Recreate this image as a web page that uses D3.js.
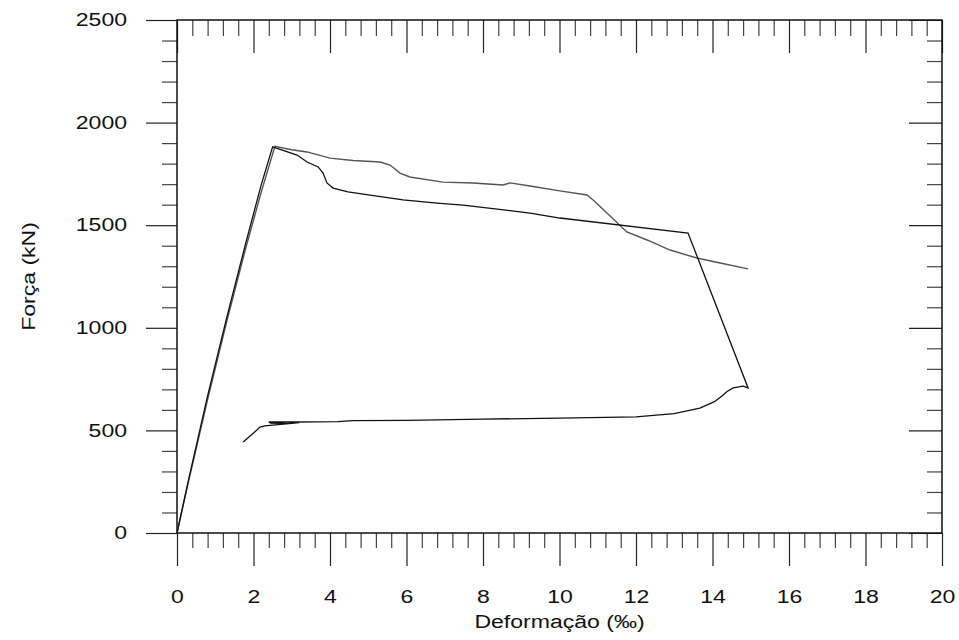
<!DOCTYPE html>
<html>
<head>
<meta charset="utf-8">
<script src="https://cdnjs.cloudflare.com/ajax/libs/d3/7.8.5/d3.min.js"></script>
<style>
  body { margin: 0; background: #fff; }
  svg { display: block; font-family: Arial, "Liberation Sans", sans-serif; }
</style>
</head>
<body>
<div id="chart"></div>
<script>
// strain (permil) / force (kN)
var curveA = [
    [0, 0], [0.3, 250], [0.8, 650], [1.3, 1030], [1.8, 1390], [2.2, 1660], [2.56, 1885],
    [3.0, 1868], [3.4, 1857], [4.0, 1827], [4.6, 1815], [5.31, 1808], [5.57, 1793],
    [5.83, 1754], [6.09, 1735], [6.95, 1710], [7.74, 1706], [8.52, 1696], [8.71, 1706],
    [9.23, 1691], [10.01, 1667], [10.72, 1647], [10.88, 1623], [11.24, 1559],
    [11.76, 1467], [12.29, 1428], [12.89, 1379], [13.59, 1340], [14.2, 1316], [14.93, 1287]
];
var curveB = [
    [0, 0], [0.3, 258], [0.8, 668], [1.3, 1050], [1.8, 1415], [2.2, 1695], [2.5, 1882],
    [3.14, 1842], [3.4, 1808], [3.69, 1784], [3.82, 1754], [3.92, 1706], [4.08, 1681],
    [4.47, 1662], [5.05, 1647], [5.91, 1623], [6.8, 1608], [7.48, 1598], [9.23, 1559],
    [10.01, 1535], [13.36, 1462], [14.93, 707],
    [14.8, 716], [14.54, 707], [14.38, 690], [14.25, 668], [14.05, 640], [13.67, 609],
    [13.0, 582], [12.0, 566], [10.0, 560], [8.0, 555], [6.0, 549], [4.6, 548], [4.2, 543],
    [3.0, 541], [2.4, 541], [2.45, 536], [2.9, 533], [3.2, 538], [2.3, 522], [2.17, 516],
    [2.0, 487], [1.85, 463], [1.73, 443]
];
var xTicks = [0, 2, 4, 6, 8, 10, 12, 14, 16, 18, 20];
var yTicks = [0, 500, 1000, 1500, 2000, 2500];
var xLabel = "Deformação (‰)";
var yLabel = "Força (kN)";

var width = 959, height = 640;
var margin = {top: 20, right: 17, bottom: 107, left: 177};
var stretch = 1.28; // the original text is drawn wide

var svg = d3.select("#chart").append("svg")
    .attr("width", width)
    .attr("height", height);

var x = d3.scaleLinear().domain([0, 20]).range([margin.left, width - margin.right]);
var y = d3.scaleLinear().domain([0, 2500]).range([height - margin.bottom, margin.top]);

var xMinor = d3.range(0, 20.001, 0.4).filter(d => Math.abs(d / 2 - Math.round(d / 2)) > 0.01);
var yMinor = d3.range(0, 2501, 100).filter(d => d % 500 !== 0);

var styleAxis = function(g) {
    g.select(".domain").remove();
    g.selectAll(".tick line").attr("stroke", "#222").attr("stroke-width", 1.2);
    g.selectAll(".tick text").attr("font-size", 18).attr("fill", "#111")
        .attr("font-family", "Arial, 'Liberation Sans', sans-serif")
        .attr("x", function() { return +d3.select(this).attr("x") / stretch; })
        .attr("transform", "scale(" + stretch + ",1)");
};
var styleMinor = function(g) {
    g.select(".domain").remove();
    g.selectAll(".tick line").attr("stroke", "#444").attr("stroke-width", 1.2);
    g.selectAll(".tick text").remove();
};

// bottom: outward ticks with labels
svg.append("g").attr("transform", "translate(0," + y(0) + ")")
    .call(d3.axisBottom(x).tickValues(xTicks).tickSize(33).tickPadding(24).tickFormat(d3.format("d")))
    .call(styleAxis);
svg.append("g").attr("transform", "translate(0," + y(0) + ")")
    .call(d3.axisBottom(x).tickValues(xMinor).tickSize(15))
    .call(styleMinor);

// top: inward ticks
svg.append("g").attr("transform", "translate(0," + y(2500) + ")")
    .call(d3.axisBottom(x).tickValues(xTicks).tickSize(33).tickFormat(""))
    .call(styleAxis);
svg.append("g").attr("transform", "translate(0," + y(2500) + ")")
    .call(d3.axisBottom(x).tickValues(xMinor).tickSize(16))
    .call(styleMinor);

// left: outward ticks with labels
svg.append("g").attr("transform", "translate(" + x(0) + ",0)")
    .call(d3.axisLeft(y).tickValues(yTicks).tickSize(31).tickPadding(19).tickFormat(d3.format("d")))
    .call(styleAxis);
svg.append("g").attr("transform", "translate(" + x(0) + ",0)")
    .call(d3.axisLeft(y).tickValues(yMinor).tickSize(15))
    .call(styleMinor);

// right: inward ticks
svg.append("g").attr("transform", "translate(" + x(20) + ",0)")
    .call(d3.axisLeft(y).tickValues(yTicks).tickSize(33).tickFormat(""))
    .call(styleAxis);
svg.append("g").attr("transform", "translate(" + x(20) + ",0)")
    .call(d3.axisLeft(y).tickValues(yMinor).tickSize(15))
    .call(styleMinor);

// frame
svg.append("rect")
    .attr("x", x(0)).attr("y", y(2500))
    .attr("width", x(20) - x(0)).attr("height", y(0) - y(2500))
    .attr("fill", "none").attr("stroke", "#111").attr("stroke-width", 1.5);

var line = d3.line().x(d => x(d[0])).y(d => y(d[1]));

svg.append("path").datum(curveA)
    .attr("d", line).attr("fill", "none")
    .attr("stroke", "#555").attr("stroke-width", 1.4);
svg.append("path").datum(curveB)
    .attr("d", line).attr("fill", "none")
    .attr("stroke", "#111").attr("stroke-width", 1.3);

// axis titles
svg.append("text")
    .attr("transform", "translate(" + (x(0) + x(20)) / 2 + ",628) scale(" + stretch + ",1)")
    .attr("text-anchor", "middle").attr("font-size", 18).attr("fill", "#111")
    .text(xLabel);
svg.append("text")
    .attr("transform", "translate(35," + (y(0) + y(2500)) / 2 + ") rotate(-90) scale(" + stretch + ",1)")
    .attr("text-anchor", "middle").attr("font-size", 18).attr("fill", "#111")
    .text(yLabel);
</script>
</body>
</html>
